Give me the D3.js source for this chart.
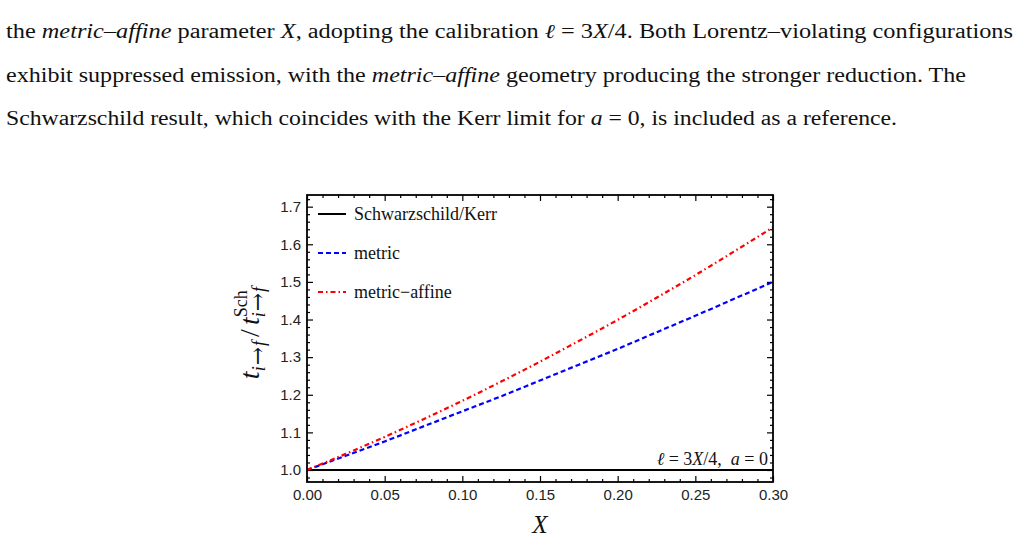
<!DOCTYPE html>
<html>
<head>
<meta charset="utf-8">
<script src="https://cdn.jsdelivr.net/npm/d3@7"></script>
<style>
  html, body { margin: 0; padding: 0; background: #fff; }
  svg { display: block; }
</style>
</head>
<body>
<svg id="chart" width="1020" height="541"></svg>
<script>
// values
const xVals = [0, 0.025, 0.05, 0.075, 0.10, 0.125, 0.15, 0.175, 0.20, 0.225, 0.25, 0.275, 0.30];
const schwVals = [1, 1, 1, 1, 1, 1, 1, 1, 1, 1, 1, 1, 1];
const metricVals = [1.000, 1.038, 1.076, 1.116, 1.156, 1.196, 1.238, 1.280, 1.322, 1.366, 1.410, 1.455, 1.500];
const affineVals = [1.000, 1.043, 1.088, 1.135, 1.184, 1.235, 1.288, 1.343, 1.399, 1.458, 1.518, 1.581, 1.645];
const xTicks = [0, 0.05, 0.10, 0.15, 0.20, 0.25, 0.30];
const yTicks = [1.0, 1.1, 1.2, 1.3, 1.4, 1.5, 1.6, 1.7];
const legendLabels = ["Schwarzschild/Kerr", "metric", "metric\u2212affine"];

const svg = d3.select("#chart");
const serif = "'Liberation Serif', 'DejaVu Serif', serif";
const sans = "'Liberation Sans', Arial, sans-serif";

// paragraph above the figure
const para = [
  { len: 1007, parts: [["the ", 0], ["metric\u2013affine", 1], [" parameter ", 0], ["X", 1], [", adopting the calibration ", 0], ["\u2113", 1], [" = 3", 0], ["X", 1], ["/4. Both Lorentz\u2013violating configurations", 0]] },
  { len: 960, parts: [["exhibit suppressed emission, with the ", 0], ["metric\u2013affine", 1], [" geometry producing the stronger reduction. The", 0]] },
  { len: 891, parts: [["Schwarzschild result, which coincides with the Kerr limit for ", 0], ["a", 1], [" = 0, is included as a reference.", 0]] }
];
const paraY = [38, 82, 125];
para.forEach((line, i) => {
  const t = svg.append("text")
    .attr("x", 6).attr("y", paraY[i])
    .attr("font-family", serif).attr("font-size", 20)
    .attr("fill", "#111")
    .attr("textLength", line.len)
    .attr("lengthAdjust", "spacingAndGlyphs");
  line.parts.forEach(p => {
    t.append("tspan").attr("font-style", p[1] ? "italic" : "normal").text(p[0]);
  });
});

// plot area
const pLeft = 307, pRight = 773, pTop = 195, pBottom = 482;
const x = d3.scaleLinear().domain([0, 0.30]).range([pLeft, pRight]);
const y = d3.scaleLinear().domain([0.9681, 1.731]).range([pBottom, pTop]);

svg.append("clipPath").attr("id", "clip")
  .append("rect").attr("x", pLeft).attr("y", pTop).attr("width", pRight - pLeft).attr("height", pBottom - pTop);

const minorX = d3.range(0, 0.3001, 0.01).filter(v => Math.abs(v * 20 - Math.round(v * 20)) > 1e-6);
const minorY = d3.range(0.98, 1.73, 0.02).filter(v => Math.abs(v * 10 - Math.round(v * 10)) > 1e-6);

function tickGroup(axis, tr) {
  const g = svg.append("g").attr("transform", tr).call(axis);
  g.select(".domain").remove();
  g.selectAll("line").attr("stroke", "#000").attr("stroke-width", 1.2);
  g.selectAll("text").attr("font-family", sans).attr("font-size", 15).attr("fill", "#222");
  return g;
}

// bottom / top
tickGroup(d3.axisBottom(x).tickValues(xTicks).tickSize(-6).tickPadding(7).tickFormat(d3.format(".2f")), `translate(0,${pBottom})`);
tickGroup(d3.axisBottom(x).tickValues(minorX).tickSize(-3).tickFormat(""), `translate(0,${pBottom})`);
tickGroup(d3.axisTop(x).tickValues(xTicks).tickSize(-6).tickFormat(""), `translate(0,${pTop})`);
tickGroup(d3.axisTop(x).tickValues(minorX).tickSize(-3).tickFormat(""), `translate(0,${pTop})`);
// left / right
tickGroup(d3.axisLeft(y).tickValues(yTicks).tickSize(-6).tickPadding(6).tickFormat(d3.format(".1f")), `translate(${pLeft},0)`);
tickGroup(d3.axisLeft(y).tickValues(minorY).tickSize(-3).tickFormat(""), `translate(${pLeft},0)`);
tickGroup(d3.axisRight(y).tickValues(yTicks).tickSize(-6).tickFormat(""), `translate(${pRight},0)`);
tickGroup(d3.axisRight(y).tickValues(minorY).tickSize(-3).tickFormat(""), `translate(${pRight},0)`);

// curves
const line = d3.line().x(d => x(d[0])).y(d => y(d[1])).curve(d3.curveMonotoneX);
const series = [
  { vals: schwVals, color: "#000", dash: null, w: 2 },
  { vals: metricVals, color: "#0000ff", dash: "5,3", w: 2.2 },
  { vals: affineVals, color: "#ff0000", dash: "5,3,1.5,3", w: 2.2 }
];
const plot = svg.append("g").attr("clip-path", "url(#clip)");
series.forEach(s => {
  plot.append("path")
    .datum(xVals.map((v, i) => [v, s.vals[i]]))
    .attr("d", line)
    .attr("fill", "none")
    .attr("stroke", s.color)
    .attr("stroke-width", s.w)
    .attr("stroke-dasharray", s.dash);
});

// frame
svg.append("rect")
  .attr("x", pLeft).attr("y", pTop).attr("width", pRight - pLeft).attr("height", pBottom - pTop)
  .attr("fill", "none").attr("stroke", "#000").attr("stroke-width", 1.8);

// legend
const legY = [214, 253, 292];
series.forEach((s, i) => {
  svg.append("line")
    .attr("x1", 318).attr("x2", 346).attr("y1", legY[i]).attr("y2", legY[i])
    .attr("stroke", s.color).attr("stroke-width", s.w).attr("stroke-dasharray", s.dash);
  svg.append("text")
    .attr("x", 354).attr("y", legY[i] + 6)
    .attr("font-family", serif).attr("font-size", 18).attr("fill", "#111")
    .text(legendLabels[i]);
});

// annotation
const ann = svg.append("text")
  .attr("x", 768).attr("y", 465)
  .attr("text-anchor", "end")
  .attr("font-family", serif).attr("font-size", 18).attr("fill", "#111")
  .attr("xml:space", "preserve");
ann.append("tspan").attr("font-style", "italic").text("\u2113");
ann.append("tspan").text(" = 3");
ann.append("tspan").attr("font-style", "italic").text("X");
ann.append("tspan").text("/4,  ");
ann.append("tspan").attr("font-style", "italic").text("a");
ann.append("tspan").text(" = 0");

// x label
svg.append("text")
  .attr("x", 540).attr("y", 533)
  .attr("text-anchor", "middle")
  .attr("font-family", serif).attr("font-size", 25).attr("font-style", "italic")
  .attr("fill", "#111")
  .text("X");

// y label
const yl = svg.append("text")
  .attr("transform", "translate(259,333) rotate(-90)")
  .attr("text-anchor", "middle")
  .attr("font-family", serif).attr("font-size", 28).attr("fill", "#111");

function subIF(sel, dx, dy) {
  const s = sel.append("tspan").attr("font-size", 18).attr("dy", dy);
  if (dx) s.attr("dx", dx);
  s.append("tspan").attr("font-style", "italic").text("i");
  s.append("tspan").attr("font-family", "'DejaVu Serif', serif").attr("font-size", 22).attr("dx", 1).text("\u2192");
  s.append("tspan").attr("font-style", "italic").attr("dx", 1).text("f");
  return s;
}

yl.append("tspan").attr("font-style", "italic").text("t");
subIF(yl, 0, 6);
yl.append("tspan").attr("dy", -6).attr("dx", 4).text("/");
yl.append("tspan").attr("font-style", "italic").attr("dx", 4).text("t");
const sup = yl.append("tspan").attr("font-size", 18).attr("dy", -12).text("Sch");
const supW = sup.node().getComputedTextLength();
subIF(yl, -supW, 18);
</script>
</body>
</html>
